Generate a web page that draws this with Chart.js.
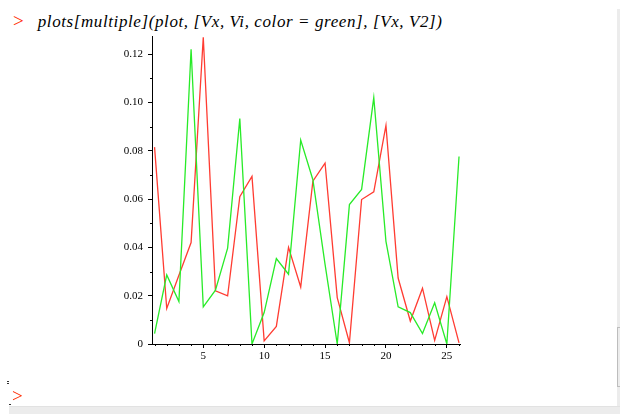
<!DOCTYPE html>
<html>
<head>
<meta charset="utf-8">
<script src="https://cdn.jsdelivr.net/npm/chart.js@4/dist/chart.umd.min.js"></script>
<style>
  html, body { margin: 0; padding: 0; background: #fff; }
  #wrap { position: relative; width: 620px; height: 414px; overflow: hidden; background: #fff; }
  #cmd { position: absolute; left: 13px; top: 10px; font-family: 'Liberation Serif', serif; font-size: 17px; color: #000; white-space: nowrap; }
  #cmd .p { color: #ff2a00; font-style: normal; font-size: 19px; margin-right: 14px; }
  #cmd .t { font-style: italic; letter-spacing: 0.6px; }
  #prompt2 { position: absolute; left: 12px; top: 385px; font-family: 'Liberation Serif', serif; font-size: 19px; color: #ff2a00; }
  .dot { position: absolute; width: 2px; height: 1px; background: #333; }
  #bar { position: absolute; left: 9px; top: 406px; width: 611px; height: 8px; background: #ececec; border-top: 1px solid #e2e2e2; }
  #side { position: absolute; left: 617px; top: 9px; width: 3px; height: 397px; background: #ececec; }
  #thumb { position: absolute; left: 617px; top: 327px; width: 3px; height: 60px; border-left: 1px solid #bdbdbd; border-top: 1px solid #bdbdbd; border-bottom: 1px solid #bdbdbd; box-sizing: border-box; }
  canvas { position: absolute; left: 0; top: 0; }
</style>
</head>
<body>
<div id="wrap">
  <div id="cmd"><span class="p">&gt;</span><span class="t">plots[multiple](plot, [Vx, Vi, color = green], [Vx, V2])</span></div>
  <canvas id="chart" width="620" height="414"></canvas>
  <div class="dot" style="left:7px;top:381px"></div>
  <div class="dot" style="left:7px;top:383px"></div>
  <div class="dot" style="left:9px;top:404px"></div>
  <div id="prompt2">&gt;</div>
  <div id="side"></div>
  <div id="thumb"></div>
  <div id="bar"></div>
</div>
<script>
// data
var Vx = [1, 2, 3, 4, 5, 6, 7, 8, 9, 10, 11, 12, 13, 14, 15, 16, 17, 18, 19, 20, 21, 22, 23, 24, 25, 26];
var Vi = [0.0043, 0.0286, 0.0176, 0.122, 0.0154, 0.0223, 0.0397, 0.0933, 0.0, 0.013, 0.0354, 0.0289, 0.0844,
          0.068, 0.033, 0.0, 0.0577, 0.064, 0.102, 0.0425, 0.0154, 0.013, 0.0043, 0.0171, 0.0, 0.0776];
var V2 = [0.0815, 0.0147, 0.0285, 0.042, 0.127, 0.022, 0.0199, 0.061, 0.0694, 0.0013, 0.0073, 0.040, 0.0236,
          0.0674, 0.0749, 0.0192, 0.0005, 0.0598, 0.063, 0.0905, 0.0273, 0.0095, 0.0231, 0.0015, 0.0196, 0.0005];
var xTicks = [5, 10, 15, 20, 25];
var yTicks = [0, 0.02, 0.04, 0.06, 0.08, 0.10, 0.12];

function pts(ys) {
    return Vx.map(function(x, i) { return { x: x, y: ys[i] }; });
}

// minor tick marks, Maple style
var minorTicks = {
    id: 'minorTicks',
    afterDraw: function(chart) {
        var c = chart.ctx, xs = chart.scales.x, ys = chart.scales.y;
        c.save();
        c.strokeStyle = '#000';
        c.lineWidth = 1;
        c.beginPath();
        for (var i = 1; i <= 26; i++) {
            if (i % 5 === 0) continue;
            var px = Math.round(xs.getPixelForValue(i)) + 0.5;
            c.moveTo(px, ys.bottom);
            c.lineTo(px, ys.bottom + 2);
        }
        for (var k = 1; k <= 12; k += 2) {
            var py = Math.round(ys.getPixelForValue(k / 100)) + 0.5;
            c.moveTo(xs.left - 2, py);
            c.lineTo(xs.left, py);
        }
        c.stroke();
        c.restore();
    }
};

var ctx = document.getElementById('chart').getContext('2d');
var chart = new Chart(ctx, {
    type: 'line',
    data: {
        datasets: [{
            label: 'Vi',
            data: pts(Vi),
            borderColor: 'rgb(40,235,40)',
            borderWidth: 1.3,
            pointRadius: 0,
            tension: 0
        }, {
            label: 'V2',
            data: pts(V2),
            borderColor: 'rgb(255,60,50)',
            borderWidth: 1.3,
            pointRadius: 0,
            tension: 0
        }]
    },
    options: {
        responsive: false,
        animation: false,
        events: [],
        layout: { padding: { left: 100, right: 160, top: 36, bottom: 50 } },
        plugins: { legend: { display: false }, tooltip: { enabled: false } },
        scales: {
            x: {
                type: 'linear',
                min: 0.79,
                max: 26.08,
                afterBuildTicks: function(s) { s.ticks = xTicks.map(function(v) { return { value: v }; }); },
                afterFit: function(s) { s.height = 20; },
                border: { display: true, color: '#000', width: 1 },
                grid: { drawOnChartArea: false, drawTicks: true, tickLength: 4, tickColor: '#000' },
                ticks: {
                    color: '#000', padding: 2, maxRotation: 0,
                    font: { family: 'Liberation Serif', size: 11 },
                    callback: function(v) { return String(v); }
                }
            },
            y: {
                min: 0,
                max: 0.1275,
                afterBuildTicks: function(s) { s.ticks = yTicks.map(function(v) { return { value: v }; }); },
                afterFit: function(s) { s.width = 52; },
                border: { display: true, color: '#000', width: 1 },
                grid: { drawOnChartArea: false, drawTicks: true, tickLength: 4, tickColor: '#000' },
                ticks: {
                    color: '#000', padding: 5,
                    font: { family: 'Liberation Serif', size: 11 },
                    callback: function(v) { return v === 0 ? '0' : v.toFixed(2); }
                }
            }
        }
    },
    plugins: [minorTicks]
});
</script>
</body>
</html>
